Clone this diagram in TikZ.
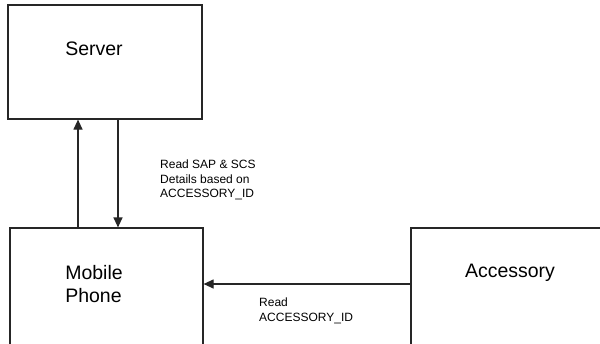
\documentclass[tikz,border=0pt]{standalone}
\usepackage{fontspec}
\setmainfont{Liberation Sans}
\usetikzlibrary{arrows.meta}
\begin{document}
\begin{tikzpicture}[x=1pt,y=-1pt,
  box/.style={draw=black!85, line width=1.2pt, rectangle, inner sep=0pt},
  big/.style={font=\fontsize{19.5}{23}\selectfont, inner sep=0pt, anchor=center},
  small/.style={font=\fontsize{12}{14.5}\selectfont, inner sep=0pt, align=left, anchor=north west},
  arr/.style={draw=black!85, line width=1.2pt, -{Triangle[length=10pt,width=9pt]}}]
  \useasboundingbox[fill=white] (0,0) rectangle (600,343);
  % boxes
  \node[box, minimum width=194pt, minimum height=114pt] (server) at (105,62) {};
  \node[box, minimum width=193pt, minimum height=124pt] (mobile) at (106.5,290) {};
  \node[box, minimum width=196pt, minimum height=124pt] (accessory) at (509,290) {};
  % box titles
  \node[big] (servertxt) at (94,49) {Server};
  \node[big, align=left] (mobiletxt) at (94,284) {Mobile\\Phone};
  \node[big] (accesstxt) at (510,273) {Accessory};
  % connectors
  \coordinate (upx) at (78,0);
  \coordinate (downx) at (118,0);
  \coordinate (hy) at (0,284);
  \draw[arr] (upx |- mobile.north) -- (upx |- server.south);
  \draw[arr] (downx |- server.south) -- (downx |- mobile.north);
  \draw[arr] (accessory.west |- hy) -- (mobile.east |- hy);
  % connector labels
  \node[small] (lbl1) at (160,160) {Read SAP \& SCS\\Details based on\\ACCESSORY\_ID};
  \node[small] (lbl2) at (259,298) {Read\\ACCESSORY\_ID};
\end{tikzpicture}
\end{document}
